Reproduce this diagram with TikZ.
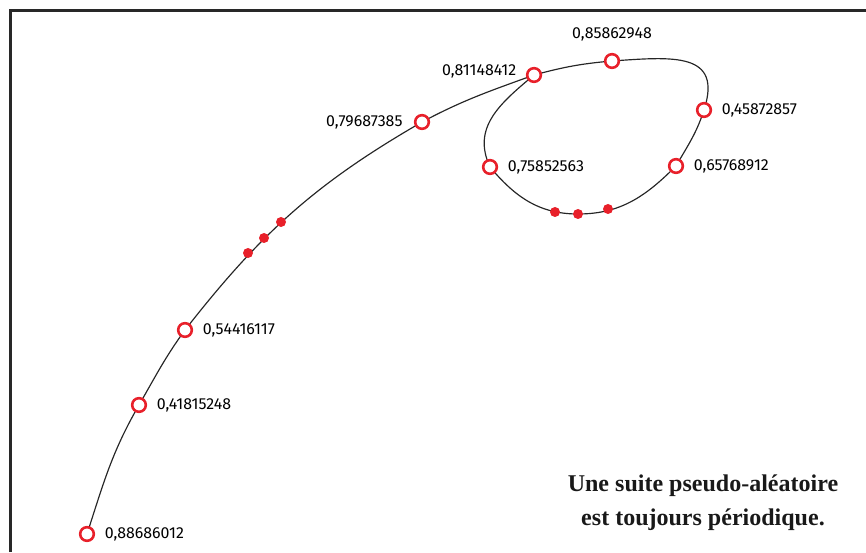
\documentclass[tikz,border=0pt]{standalone}
\usepackage{fontspec}
\setmainfont{Liberation Serif}
\newfontfamily\numfont{Fira Sans}
\usepackage{tikz}
\usetikzlibrary{positioning}
\usetikzlibrary{backgrounds}
\usepackage{xcolor}
\definecolor{ptred}{RGB}{232,32,42}
\definecolor{framegray}{RGB}{40,40,40}

\begin{document}
\begin{tikzpicture}[x=0.03cm, y=0.03cm,
    ring/.style={circle, draw=ptred, fill=white, line width=2.2pt, minimum size=0.41cm, inner sep=0pt},
    dot/.style={circle, fill=ptred, minimum size=0.3cm, inner sep=0pt},
    val/.style={font=\numfont\fontsize{13.6}{16}\selectfont, inner sep=1pt},
    curve/.style={line width=1pt, black!85}]
    \useasboundingbox (0,0) rectangle (866,552);
    \draw[line width=0.09cm, framegray] (10,0) -- (10,541) -- (866,541);

    % the tail
    \node[ring] (A) at (87,18) {};
    \node[ring] (B) at (139,147) {};
    \node[ring] (C) at (185,222) {};
    \node[dot] (d1) at (248,299) {};
    \node[dot] (d2) at (264,314) {};
    \node[dot] (d3) at (281,330) {};
    \node[ring] (D) at (422,430) {};
    % the cycle
    \node[ring] (E) at (534,477) {};
    \node[ring] (F) at (612,491) {};
    \node[ring] (G) at (704,442) {};
    \node[ring] (H) at (676,386) {};
    \node[dot] (d4) at (608,343) {};
    \node[dot] (d5) at (578,338) {};
    \node[dot] (d6) at (555,340) {};
    \node[ring] (I) at (490,385) {};

    \node[val, right=2.5mm of A] (tA) {0,88686012};
    \node[val, right=2.5mm of B] (tB) {0,41815248};
    \node[val, right=2.5mm of C] (tC) {0,54416117};
    \node[val, left=3mm of D] (tD) {0,79687385};
    \node[val, left=2.5mm of E, yshift=3pt] (tE) {0,81148412};
    \node[val, above=3mm of F] (tF) {0,85862948};
    \node[val, right=2.5mm of G] (tG) {0,45872857};
    \node[val, right=2.5mm of H] (tH) {0,65768912};
    \node[val, right=2.5mm of I] (tI) {0,75852563};

    \node[font=\fontsize{20.5}{29}\selectfont\bfseries, align=center, text=black!90] (msg) at (703,49)
        {Une suite pseudo-aléatoire\\est toujours périodique.};

    \begin{scope}[on background layer]
    \draw[curve] (A.center) to[out=72, in=240] (B.center)
        to[out=60, in=234] (C.center)
        to[out=52, in=210] (D.center)
        to[out=28, in=200] (E.center);
    \draw[curve] (E.center) to[out=15, in=185] (F.center)
        to[out=4, in=72, looseness=1.5] (G.center)
        to[out=252, in=60] (H.center)
        to[out=225, in=0] (d5.center)
        to[out=180, in=310] (I.center)
        to[out=115, in=220, looseness=1.1] (E.center);
    \end{scope}
\end{tikzpicture}
\end{document}
